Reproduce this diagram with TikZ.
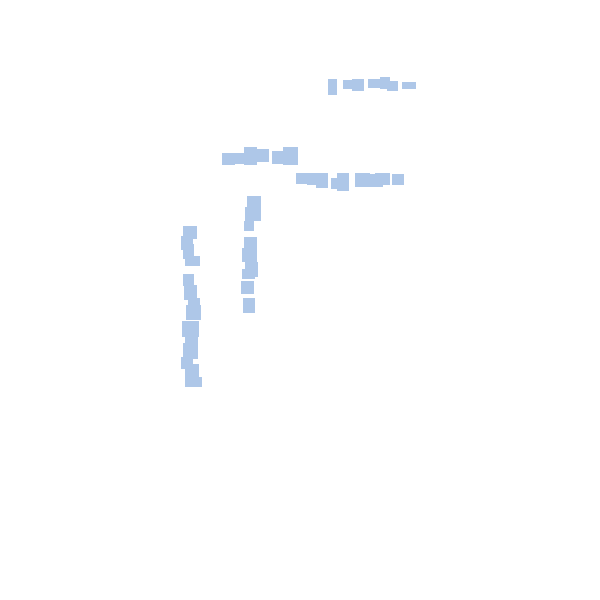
\documentclass[tikz,border=0pt]{standalone}
\definecolor{lb}{RGB}{174,199,232}
\tikzset{blk/.style={fill=lb,draw=none}}
\begin{document}
\begin{tikzpicture}[x=1pt,y=-1pt]
\useasboundingbox (0,0) rectangle (600,600);
% top right row
\foreach \a/\b/\c/\d in {328/79/337/95, 343/80/352/89, 352/79/364/91, 368/79/380/88, 380/77/390/89, 387/81/398/91, 402/82/416/89}
  \fill[blk] (\a,\b) rectangle (\c,\d);
% upper middle row
\foreach \a/\b/\c/\d in {222/153/235/165, 234/153/246/164, 244/147/257/165, 256/149/269/162, 272/151/284/164, 283/147/298/165}
  \fill[blk] (\a,\b) rectangle (\c,\d);
% second row
\foreach \a/\b/\c/\d in {296/173/307/184, 307/173/328/185, 316/180/328/188, 331/178/337/189, 337/173/349/191, 355/173/370/187, 370/174/383/187, 375/173/390/185, 392/174/404/185}
  \fill[blk] (\a,\b) rectangle (\c,\d);
% middle column
\foreach \a/\b/\c/\d in {247/196/261/207, 245/207/261/221, 244/221/254/231, 244/237/257/248, 242/248/257/262, 245/262/258/277, 242/269/255/279, 241/281/254/294, 243/298/255/313}
  \fill[blk] (\a,\b) rectangle (\c,\d);
% left column
\foreach \a/\b/\c/\d in {183/226/197/239, 181/236/193/250, 183/244/194/259, 185/256/200/266, 183/274/194/286, 184/285/197/300, 188/298/200/306, 186/305/201/320, 182/321/199/337, 185/337/198/344, 183/343/198/359, 181/357/193/369, 185/364/199/378, 185/377/202/387}
  \fill[blk] (\a,\b) rectangle (\c,\d);
\end{tikzpicture}
\end{document}
